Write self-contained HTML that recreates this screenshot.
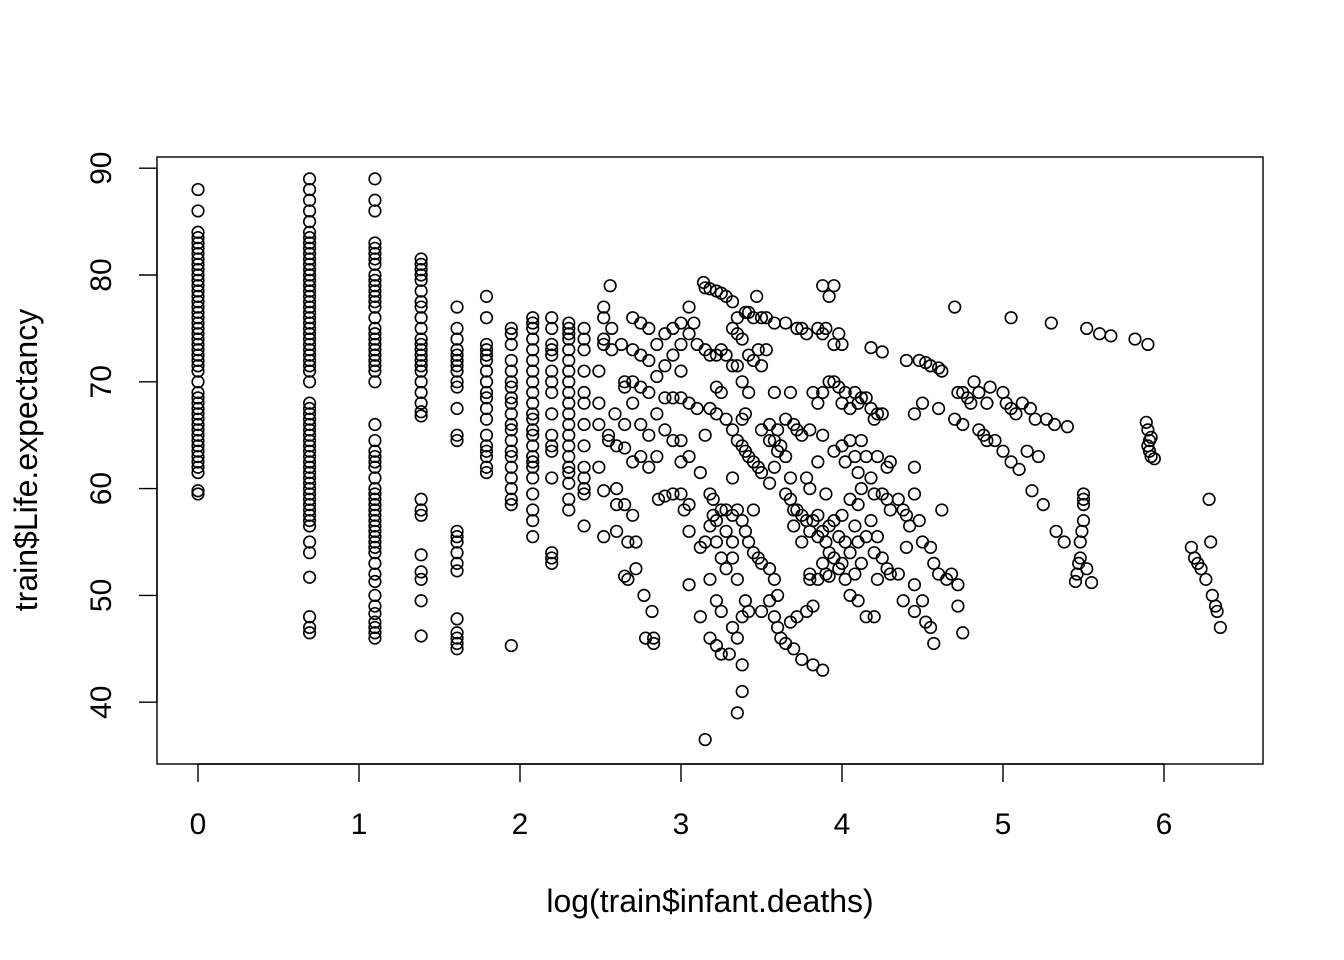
<!DOCTYPE html>
<html>
<head>
<meta charset="utf-8">
<style>
html,body{margin:0;padding:0;background:#fff;}
svg{display:block;font-family:"Liberation Sans",Arial,sans-serif;}
</style>
</head>
<body>
<svg id="chart" width="1344" height="960" viewBox="0 0 1344 960" xmlns="http://www.w3.org/2000/svg">
  <rect x="0" y="0" width="1344" height="960" fill="#fff"/>
  <rect x="157" y="157" width="1106" height="607" fill="none" stroke="#000" stroke-width="1.4"/>
  <g id="xaxis"></g>
  <g id="yaxis"></g>
  <g id="points"></g>
  <text x="710" y="912" font-size="32" text-anchor="middle">log(train$infant.deaths)</text>
  <text transform="translate(37,460) rotate(-90)" font-size="32" text-anchor="middle">train$Life.expectancy</text>
</svg>
<script>
const xTicks = [0,1,2,3,4,5,6];
const yTicks = [40,50,60,70,80,90];
const colX = [0,0.693,1.099,1.386,1.609,1.792,1.946,2.079,2.197,2.303,2.398];
const colY = [
 [59.5,59.8,61.5,62,62.5,63,63.5,64,64.5,65,65.5,66,66.5,67,67.5,68,68.5,69,70,71,71.5,72,72.5,73,73.5,74,74.5,75,75.5,76,76.5,77,77.5,78,78.5,79,79.5,80,80.5,81,81.5,82,82.5,83,83.5,84,86,88],
 [46.5,47,48,51.7,54,55,56.5,57,57.5,58,58.5,59,59.5,60,60.5,61,61.5,62,62.5,63,63.5,64,64.5,65,65.5,66,66.5,67,67.5,68,70,71,71.5,72,72.5,73,73.5,74,74.5,75,75.5,76,76.5,77,77.5,78,78.5,79,79.5,80,80.5,81,81.5,82,82.5,83,83.5,84,85,86,87,88,89],
 [46,46.5,47,47.5,48.3,49,50,51.3,52,53,54,54.5,55,55.5,56,56.5,57,57.5,58,58.5,59,59.5,60,61,62,62.5,63,63.5,64.5,66,70,71,71.5,72,72.5,73,73.5,74,74.5,75,76,77,77.5,78,78.5,79,79.5,80,81,81.5,82,82.5,83,86,87,89],
 [46.2,49.5,51.5,52.2,53.8,57.5,58,59,66.8,67.2,68,69,70,71,71.5,72,72.5,73,73.5,74,75,76,77,77.5,78.5,79.5,80,80.5,81,81.5],
 [45,45.5,46,46.5,47.8,52.3,53,54,55,55.5,56,64.5,65,67.5,69.5,70,71,71.5,72,72.5,73,74,75,77],
 [61.5,62,63,63.5,64,65,66.5,67.5,68.5,69,70,71,72,72.5,73,73.5,76,78],
 [45.3,58.5,59,60,61,62,63,63.5,64.5,65.5,66,67,68,68.5,69.5,70,71,72,73.5,74.5,75],
 [55.5,57,58,59.5,61,62,62.5,63,64,65,65.5,66.5,67,68,69,70,71,72,73,74,75,75.5,76],
 [53,53.5,54,61,63.5,64,65,67,69,70,71,72.5,73,73.5,75,76],
 [58,59,60.5,61.5,62,63,64,65,66,67,68,69,70,71,72,73,74,74.5,75,75.5],
 [56.5,59.5,60,61,62,64,66,68,69,71,73,74,75]
];
const cloud = [[2.49,71],[2.49,68],[2.49,66],[2.49,62],[2.56,79],[2.52,77],[2.52,76],[2.52,74],[2.52,73.5],[2.55,65],[2.55,64.5],[2.52,59.8],[2.52,55.5],[2.57,73],[2.57,75],[2.59,67],[2.6,60],[2.6,58.5],[2.6,56],[2.6,64],[2.63,73.5],[2.65,70],[2.65,69.5],[2.65,66],[2.65,63.8],[2.65,58.5],[2.65,51.8],[2.67,55],[2.67,51.5],[2.7,76],[2.7,73],[2.7,70],[2.7,68],[2.7,62.5],[2.7,57.5],[2.72,55],[2.72,52.5],[2.75,75.5],[2.75,72.5],[2.75,69.5],[2.75,66],[2.75,63],[2.77,50],[2.78,46],[2.8,75],[2.8,72],[2.8,69],[2.8,65],[2.8,62],[2.82,48.5],[2.83,46],[2.83,45.5],[2.85,73.5],[2.85,70.5],[2.85,67],[2.85,63],[2.86,59],[2.9,74.5],[2.9,71.5],[2.9,68.5],[2.9,65.5],[2.9,59.3],[2.95,75],[2.95,72.5],[2.95,68.5],[2.95,64.5],[2.95,59.5],[3.0,75.5],[3.0,73.5],[3.0,71],[3.0,68.5],[3.0,64.5],[3.0,62.5],[3.0,59.5],[3.02,58],[3.05,77],[3.05,74.5],[3.05,68],[3.05,63],[3.05,58.5],[3.05,56],[3.05,51],[3.08,75.5],[3.1,73.5],[3.1,67.5],[3.12,61.5],[3.12,54.5],[3.12,48],[3.14,79.3],[3.15,78.8],[3.15,73],[3.15,65],[3.15,55],[3.15,36.5],[3.18,78.7],[3.18,72.5],[3.18,67.5],[3.18,59.5],[3.18,56.5],[3.18,51.5],[3.18,46],[3.2,57.5],[3.2,59],[3.22,78.5],[3.22,72.5],[3.22,69.5],[3.22,67],[3.22,57],[3.22,55],[3.22,49.5],[3.22,45.3],[3.25,78.3],[3.25,73],[3.25,69],[3.25,58],[3.25,53.5],[3.25,48.5],[3.25,44.5],[3.28,78],[3.28,72.5],[3.28,66.5],[3.28,58],[3.28,56],[3.28,52.5],[3.3,44.5],[3.32,77.5],[3.32,75],[3.32,71.5],[3.32,65.5],[3.32,61],[3.32,57.5],[3.32,55],[3.32,53.5],[3.32,47],[3.35,76],[3.35,74.5],[3.35,71.5],[3.35,64.5],[3.35,58],[3.35,51.5],[3.35,46],[3.35,39],[3.38,74],[3.38,70],[3.38,66.5],[3.38,64],[3.38,57],[3.38,48],[3.38,43.5],[3.38,41],[3.4,76.5],[3.4,67],[3.4,63.5],[3.4,56],[3.4,49.5],[3.42,76.5],[3.42,72.5],[3.42,69],[3.42,63],[3.42,55],[3.42,48.5],[3.45,76],[3.45,72],[3.45,62.5],[3.45,58],[3.45,54],[3.47,78],[3.48,73],[3.48,62],[3.48,53.5],[3.5,76],[3.5,71.5],[3.5,65.5],[3.5,61.5],[3.5,53],[3.5,48.5],[3.53,76],[3.53,73],[3.55,66],[3.55,64.5],[3.55,60.5],[3.55,52.5],[3.55,49.5],[3.58,75.5],[3.58,69],[3.58,64.5],[3.58,62],[3.58,51.5],[3.58,48],[3.6,65.5],[3.6,63.5],[3.6,50],[3.6,47],[3.62,64],[3.62,46],[3.65,75.5],[3.65,66.5],[3.65,63],[3.65,59.5],[3.65,45.5],[3.68,69],[3.68,61],[3.68,59],[3.68,47.5],[3.7,66],[3.7,58],[3.7,56.5],[3.7,45],[3.72,75],[3.72,65.5],[3.72,58],[3.72,48],[3.75,75],[3.75,65],[3.75,57.5],[3.75,55],[3.75,44],[3.78,74.5],[3.78,61],[3.78,57],[3.78,48.5],[3.8,65.5],[3.8,60],[3.8,56],[3.8,52],[3.8,51.5],[3.82,69],[3.82,57],[3.82,49],[3.82,43.5],[3.85,75],[3.85,68],[3.85,62.5],[3.85,57.5],[3.85,55.5],[3.85,51.5],[3.88,79],[3.88,74.5],[3.88,69],[3.88,65],[3.88,56],[3.88,53],[3.88,43],[3.9,75],[3.9,59.5],[3.9,55],[3.9,52],[3.92,78],[3.92,70],[3.92,56.5],[3.92,54],[3.92,51.8],[3.95,79],[3.95,73.5],[3.95,70],[3.95,63.5],[3.95,57],[3.95,53.5],[3.98,74.5],[3.98,69.5],[3.98,55.5],[3.98,52.5],[4.0,73.5],[4.0,68],[4.0,64],[4.0,57.5],[4.0,53],[4.02,69],[4.02,62.5],[4.02,55],[4.02,51.5],[4.05,67.5],[4.05,64.5],[4.05,59],[4.05,54],[4.05,50],[4.08,69],[4.08,63],[4.08,56.5],[4.08,52],[4.1,68],[4.1,61.5],[4.1,58.5],[4.1,55],[4.1,49.5],[4.12,68.5],[4.12,64.5],[4.12,60],[4.12,53],[4.15,68.5],[4.15,63],[4.15,55.5],[4.15,48],[4.18,73.2],[4.18,67.5],[4.18,61],[4.18,57],[4.2,66.5],[4.2,59.5],[4.2,54],[4.2,48],[4.22,67],[4.22,63],[4.22,55.5],[4.22,51.5],[4.25,72.8],[4.25,67],[4.25,59.5],[4.25,53.5],[4.28,62],[4.28,59],[4.28,52.5],[4.3,62.5],[4.3,58],[4.3,52],[4.35,59],[4.35,52],[4.38,58],[4.38,49.5],[4.4,72],[4.4,57.5],[4.4,54.5],[4.42,56.5],[4.45,67],[4.45,62],[4.45,59.5],[4.45,51],[4.45,48.5],[4.48,72],[4.48,57],[4.5,68],[4.5,55],[4.5,49.5],[4.52,71.8],[4.52,47.5],[4.55,71.5],[4.55,54.5],[4.55,47],[4.57,45.5],[4.57,53],[4.6,71.3],[4.6,67.5],[4.6,52],[4.62,58],[4.62,71],[4.65,51.5],[4.68,52],[4.7,77],[4.7,66.5],[4.72,69],[4.72,51],[4.72,49],[4.75,69],[4.75,66],[4.75,46.5],[4.78,68.5],[4.8,68],[4.82,70],[4.85,65.5],[4.85,69],[4.88,65],[4.9,64.5],[4.9,68],[4.92,69.5],[4.95,64.5],[5.0,69],[5.0,63.5],[5.02,68],[5.05,76],[5.05,67.5],[5.05,62.5],[5.08,67],[5.1,61.8],[5.12,68],[5.15,63.5],[5.17,67.5],[5.18,59.8],[5.2,66.5],[5.22,63],[5.25,58.5],[5.27,66.5],[5.3,75.5],[5.32,66],[5.33,56],[5.38,55],[5.4,65.8],[5.45,51.3],[5.46,52],[5.47,53],[5.48,53.5],[5.48,55],[5.49,56],[5.5,57],[5.5,58.5],[5.5,59],[5.5,59.5],[5.52,52.5],[5.55,51.2],[5.52,75],[5.6,74.5],[5.67,74.3],[5.82,74],[5.9,73.5],[5.89,66.2],[5.9,65.5],[5.91,64.5],[5.91,63.5],[5.92,63],[5.94,62.8],[5.9,64],[5.92,64.8],[6.17,54.5],[6.19,53.5],[6.21,53],[6.23,52.5],[6.26,51.5],[6.28,59],[6.29,55],[6.3,50],[6.32,49],[6.33,48.5],[6.35,47]];

const NS = "http://www.w3.org/2000/svg";
function sx(v){ return 198 + v * 161; }
function sy(v){ return 275 - (v - 80) * 10.68; }
function mk(tag, attrs, parent){
  const e = document.createElementNS(NS, tag);
  for (const k in attrs) e.setAttribute(k, attrs[k]);
  parent.appendChild(e);
  return e;
}
const gx = document.getElementById('xaxis');
const gy = document.getElementById('yaxis');
const gp = document.getElementById('points');

mk('line', {x1:sx(xTicks[0]), x2:sx(xTicks[xTicks.length-1]), y1:764, y2:764, stroke:'#000','stroke-width':1.4}, gx);
xTicks.forEach(t => {
  const l = mk('line', {x1:sx(t), x2:sx(t), y1:764, y2:782, stroke:'#000','stroke-width':1.4}, gx);
  
  
  const tx = mk('text', {x:sx(t), y:834, 'font-size':30, 'text-anchor':'middle'}, gx);
  tx.textContent = t;
  
  
});
mk('line', {x1:157, x2:157, y1:sy(yTicks[0]), y2:sy(yTicks[yTicks.length-1]), stroke:'#000','stroke-width':1.4}, gy);
yTicks.forEach(t => {
  const l = mk('line', {x1:139, x2:157, y1:sy(t), y2:sy(t), stroke:'#000','stroke-width':1.4}, gy);
  
  
  const tx = mk('text', {transform:`translate(111,${sy(t)}) rotate(-90)`, 'font-size':30, 'text-anchor':'middle'}, gy);
  tx.textContent = t;
  
  
});

function pt(x, y){
  const c = mk('circle', {cx:sx(x), cy:sy(y), r:5.8, fill:'none', stroke:'#000', 'stroke-width':1.6}, gp);
  
  
}
colX.forEach((x, i) => colY[i].forEach(y => pt(x, y)));
cloud.forEach(p => pt(p[0], p[1]));
</script>
</body>
</html>
